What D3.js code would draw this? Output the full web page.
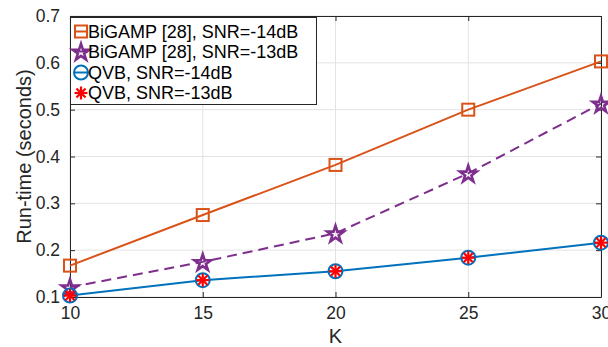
<!DOCTYPE html>
<html>
<head>
<meta charset="utf-8">
<script src="https://cdn.jsdelivr.net/npm/d3@7"></script>
<style>
body { margin: 0; background: #fff; }
svg { display: block; font-family: "Liberation Sans", Arial, sans-serif; }
</style>
</head>
<body>
<script>
var K = [10, 15, 20, 25, 30];
var bigamp14 = [0.167, 0.275, 0.382, 0.500, 0.603];
var bigamp13 = [0.121, 0.175, 0.236, 0.364, 0.513];
var qvb14 = [0.103, 0.136, 0.155, 0.184, 0.216];
var qvb13 = [0.103, 0.136, 0.155, 0.184, 0.216];
var xTicks = [10, 15, 20, 25, 30];
var yTicks = [0.1, 0.2, 0.3, 0.4, 0.5, 0.6, 0.7];
var legendLabels = ["BiGAMP [28], SNR=-14dB", "BiGAMP [28], SNR=-13dB", "QVB, SNR=-14dB", "QVB, SNR=-13dB"];

var w = 608, h = 347;
var pLeft = 70, pRight = 601, pTop = 16, pBottom = 297;

var svg = d3.select("body").append("svg")
    .attr("width", w)
    .attr("height", h);

var x = d3.scaleLinear().domain([10, 30]).range([pLeft, pRight]);
var y = d3.scaleLinear().domain([0.1, 0.7]).range([pBottom, pTop]);

// grid
svg.append("g").selectAll("line").data(xTicks).enter().append("line")
    .attr("x1", function(d) { return x(d); }).attr("x2", function(d) { return x(d); })
    .attr("y1", pTop).attr("y2", pBottom)
    .attr("stroke", "#e3e3e3").attr("stroke-width", 1);
svg.append("g").selectAll("line").data(yTicks).enter().append("line")
    .attr("y1", function(d) { return y(d); }).attr("y2", function(d) { return y(d); })
    .attr("x1", pLeft).attr("x2", pRight)
    .attr("stroke", "#e3e3e3").attr("stroke-width", 1);

// axes
var fmt = d3.format(".1f");
var axB = svg.append("g").attr("transform", "translate(0," + pBottom + ")")
    .call(d3.axisBottom(x).tickValues(xTicks).tickSizeInner(-5).tickSizeOuter(0).tickPadding(10));
var axT = svg.append("g").attr("transform", "translate(0," + pTop + ")")
    .call(d3.axisTop(x).tickValues(xTicks).tickSizeInner(-5).tickSizeOuter(0).tickFormat(""));
var axL = svg.append("g").attr("transform", "translate(" + pLeft + ",0)")
    .call(d3.axisLeft(y).tickValues(yTicks).tickSizeInner(-5).tickSizeOuter(0).tickPadding(10).tickFormat(fmt));
var axR = svg.append("g").attr("transform", "translate(" + pRight + ",0)")
    .call(d3.axisRight(y).tickValues(yTicks).tickSizeInner(-5).tickSizeOuter(0).tickFormat(""));

[axB, axT, axL, axR].forEach(function(a) {
    a.selectAll("path").attr("stroke", "#262626").attr("stroke-width", 1);
    a.selectAll("line").attr("stroke", "#262626");
    a.selectAll("text").attr("fill", "#262626").style("font-size", "17.5px")
        .style("font-family", "'Liberation Sans', Arial, sans-serif");
});

// labels
svg.append("text")
    .attr("x", (pLeft + pRight) / 2).attr("y", 343)
    .attr("text-anchor", "middle")
    .attr("fill", "#262626").style("font-size", "20px")
    .text("K");
svg.append("text")
    .attr("transform", "translate(31," + ((pTop + pBottom) / 2) + ") rotate(-90)")
    .attr("text-anchor", "middle")
    .attr("fill", "#262626").style("font-size", "20px")
    .text("Run-time (seconds)");

var line = d3.line()
    .x(function(d, i) { return x(K[i]); })
    .y(function(d) { return y(d); });

var star = d3.symbol().type(d3.symbolStar).size(85);

function drawSquare(g, cx, cy) {
    g.append("rect").attr("x", cx - 6).attr("y", cy - 6).attr("width", 12).attr("height", 12)
        .attr("fill", "none").attr("stroke", "#D95319").attr("stroke-width", 2);
}
function drawStar(g, cx, cy) {
    g.append("path").attr("d", star).attr("transform", "translate(" + cx + "," + (cy + 1) + ")")
        .attr("fill", "none").attr("stroke", "#7E2F8E").attr("stroke-width", 2.6)
        .attr("stroke-linejoin", "miter");
}
function drawCircle(g, cx, cy) {
    g.append("circle").attr("cx", cx).attr("cy", cy).attr("r", 7)
        .attr("fill", "none").attr("stroke", "#0072BD").attr("stroke-width", 2);
}
function drawAsterisk(g, cx, cy) {
    var r = 6.5;
    [0, 45, 90, 135].forEach(function(deg) {
        var t = deg * Math.PI / 180;
        g.append("line")
            .attr("x1", cx - r * Math.cos(t)).attr("y1", cy - r * Math.sin(t))
            .attr("x2", cx + r * Math.cos(t)).attr("y2", cy + r * Math.sin(t))
            .attr("stroke", "#FF0000").attr("stroke-width", 2.2);
    });
}

var series = [
    { data: bigamp14, color: "#D95319", dash: null, marker: drawSquare },
    { data: bigamp13, color: "#7E2F8E", dash: "10,6", marker: drawStar },
    { data: qvb14, color: "#0072BD", dash: null, marker: drawCircle },
    { data: qvb13, color: "none", dash: null, marker: drawAsterisk }
];

series.forEach(function(s) {
    var g = svg.append("g");
    if (s.color !== "none") {
        g.append("path").datum(s.data)
            .attr("d", line)
            .attr("fill", "none")
            .attr("stroke", s.color)
            .attr("stroke-width", 2)
            .attr("stroke-dasharray", s.dash);
    }
    s.data.forEach(function(d, i) {
        s.marker(g, x(K[i]), y(d));
    });
});

// legend
var lg = svg.append("g");
lg.append("rect").attr("x", pLeft + 0.5).attr("y", pTop + 1.5).attr("width", 246).attr("height", 87)
    .attr("fill", "#fff").attr("stroke", "#262626").attr("stroke-width", 1);
var rowY = [31.5, 51.5, 72.5, 93];
series.forEach(function(s, i) {
    var cy = rowY[i];
    if (s.color !== "none") {
        lg.append("line").attr("x1", 74).attr("x2", 88).attr("y1", cy).attr("y2", cy)
            .attr("stroke", s.color).attr("stroke-width", 2);
    }
    s.marker(lg, 81, cy);
    lg.append("text").attr("x", 88).attr("y", cy).attr("dy", "0.36em")
        .attr("fill", "#000").style("font-size", "18px")
        .text(legendLabels[i]);
});
</script>
</body>
</html>
